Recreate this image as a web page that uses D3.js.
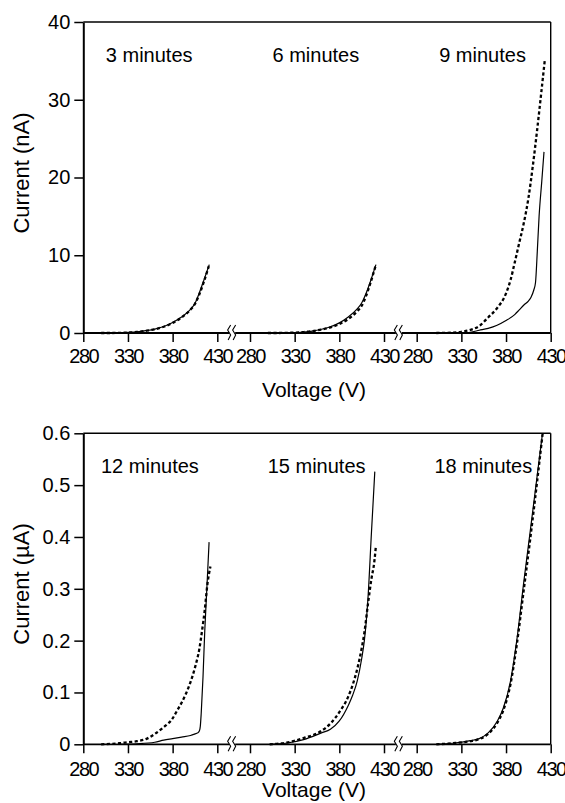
<!DOCTYPE html>
<html>
<head>
<meta charset="utf-8">
<script src="https://cdn.jsdelivr.net/npm/d3@7"></script>
<style>
  body { margin: 0; background: #fff; }
  text { font-family: "Liberation Sans", Arial, sans-serif; fill: #000; }
</style>
</head>
<body>
<div id="chart"></div>
<script>
// voltage ticks used by every segment
var voltTicks = [280, 330, 380, 430];
var nATicks = [0, 10, 20, 30, 40];
var uATicks = [0, 0.1, 0.2, 0.3, 0.4, 0.5, 0.6];

var topTitles = ["3 minutes", "6 minutes", "9 minutes"];
var botTitles = ["12 minutes", "15 minutes", "18 minutes"];

// 3 minutes (nA)
var v3s = [320, 330, 340, 350, 360, 370, 380, 390, 400, 405, 410, 415, 421];
var i3s = [0, 0.07, 0.15, 0.3, 0.5, 0.83, 1.35, 2.05, 3.05, 3.8, 5.2, 6.8, 8.8];
var v3d = [300, 310, 320, 330, 340, 350, 360, 370, 380, 390, 400, 405, 410, 415, 420.5];
var i3d = [0, 0, 0.02, 0.06, 0.13, 0.28, 0.48, 0.8, 1.3, 2.0, 3.0, 3.75, 5.0, 6.6, 8.6];

// 6 minutes (nA)
var v6s = [320, 330, 340, 350, 360, 370, 380, 390, 400, 405, 410, 415, 421];
var i6s = [0, 0.05, 0.12, 0.25, 0.48, 0.8, 1.3, 2.05, 3.1, 3.85, 5.1, 6.7, 8.8];
var v6d = [300, 310, 320, 330, 340, 350, 360, 370, 380, 390, 400, 405, 410, 415, 420.5];
var i6d = [0, 0, 0.02, 0.05, 0.12, 0.25, 0.45, 0.72, 1.15, 1.8, 2.8, 3.5, 4.8, 6.5, 8.6];

// 9 minutes (nA)
var v9s = [330, 340, 350, 360, 370, 380, 390, 395, 400, 405, 408, 411, 413, 415, 417, 420, 422.5];
var i9s = [0, 0.1, 0.35, 0.6, 1.0, 1.6, 2.4, 3.0, 3.6, 4.1, 4.6, 5.5, 6.5, 10.5, 15, 19.5, 23.3];
var v9d = [302, 320, 330, 340, 350, 360, 370, 380, 385, 390, 395, 400, 405, 410, 415, 420, 423.5];
var i9d = [0, 0.05, 0.15, 0.4, 0.9, 2.0, 3.2, 5.1, 6.8, 9.2, 11.7, 14.2, 17.3, 21.5, 26.3, 31.5, 35.2];

// 12 minutes (uA)
var v12s = [320, 340, 360, 370, 380, 390, 400, 405, 408, 410, 411, 412, 414, 416, 418, 420.8];
var i12s = [0, 0.001, 0.004, 0.008, 0.011, 0.014, 0.017, 0.02, 0.022, 0.026, 0.035, 0.06, 0.13, 0.22, 0.29, 0.39];
var v12d = [300, 320, 330, 340, 350, 360, 370, 380, 385, 390, 395, 400, 405, 410, 413, 416, 419, 422.3];
var i12d = [0, 0.002, 0.004, 0.006, 0.01, 0.02, 0.033, 0.05, 0.065, 0.08, 0.098, 0.12, 0.148, 0.185, 0.22, 0.26, 0.31, 0.343];

// 15 minutes (uA)
var v15s = [302, 320, 340, 360, 370, 380, 390, 395, 400, 405, 408, 412, 416, 419.7];
var i15s = [0, 0.002, 0.009, 0.022, 0.029, 0.045, 0.075, 0.095, 0.122, 0.165, 0.2, 0.28, 0.41, 0.526];
var v15d = [302, 320, 340, 360, 370, 380, 390, 395, 400, 405, 408, 412, 416, 419, 420.8];
var i15d = [0, 0.003, 0.012, 0.026, 0.04, 0.062, 0.092, 0.115, 0.145, 0.185, 0.215, 0.27, 0.32, 0.35, 0.38];

// 18 minutes (uA)
var v18s = [302, 320, 340, 350, 360, 370, 377, 385, 392, 400, 407, 415, 420.6];
var i18s = [0, 0.002, 0.007, 0.011, 0.022, 0.044, 0.07, 0.122, 0.2, 0.315, 0.41, 0.52, 0.597];
var v18d = [302, 320, 340, 350, 360, 370, 377, 385, 392, 400, 407, 415, 421];
var i18d = [0, 0.002, 0.006, 0.01, 0.02, 0.041, 0.066, 0.116, 0.192, 0.3, 0.395, 0.51, 0.6];

var W = 565, H = 803;
var segStart = [83.3, 250, 416.7];
var segWidth = 134;
var plotLeft = 83.3, plotRight = 550.7;

var svg = d3.select("#chart").append("svg")
  .attr("width", W)
  .attr("height", H);

function zip(vs, is) {
  return vs.map(function(v, k) { return [v, is[k]]; });
}

function drawPanel(cfg) {
  var y = d3.scaleLinear()
    .domain([cfg.ticks[0], cfg.ticks[cfg.ticks.length - 1]])
    .range([cfg.bottom, cfg.top]);

  var g = svg.append("g");

  // frame top + right
  g.append("line")
    .attr("x1", plotLeft).attr("x2", plotRight)
    .attr("y1", cfg.top).attr("y2", cfg.top)
    .attr("stroke", "#000").attr("stroke-width", 1.6);
  g.append("line")
    .attr("x1", plotRight).attr("x2", plotRight)
    .attr("y1", cfg.top).attr("y2", cfg.bottom)
    .attr("stroke", "#000").attr("stroke-width", 1.4);

  // y axis
  var yAxis = d3.axisLeft(y)
    .tickValues(cfg.ticks)
    .tickSize(9)
    .tickSizeOuter(0)
    .tickPadding(4)
    .tickFormat(cfg.fmt);
  var ya = g.append("g")
    .attr("transform", "translate(" + plotLeft + ",0)")
    .call(yAxis);
  ya.select(".domain").attr("stroke-width", 2);
  ya.selectAll(".tick line").attr("stroke-width", 1.5);
  ya.selectAll(".tick text")
    .style("font-size", "20px")
    .style("font-family", "'Liberation Sans', Arial, sans-serif")
    .attr("fill", "#000");

  // x axis baseline
  g.append("line")
    .attr("x1", plotLeft).attr("x2", plotRight)
    .attr("y1", cfg.bottom).attr("y2", cfg.bottom)
    .attr("stroke", "#000").attr("stroke-width", 1.8);

  var line = d3.line().curve(d3.curveMonotoneX);

  segStart.forEach(function(x0, s) {
    var x = d3.scaleLinear().domain([280, 430]).range([x0, x0 + segWidth]);

    var xAxis = d3.axisBottom(x)
      .tickValues(voltTicks)
      .tickSize(9)
      .tickSizeOuter(0)
      .tickPadding(4);
    var xa = g.append("g")
      .attr("transform", "translate(0," + cfg.bottom + ")")
      .call(xAxis);
    xa.select(".domain").remove();
    xa.selectAll(".tick line").attr("stroke-width", 1.5);
    xa.selectAll(".tick text")
      .attr("y", cfg.labelOff)
      .attr("dy", 0)
      .style("font-size", "20px")
      .style("letter-spacing", "-1.5px")
      .style("font-family", "'Liberation Sans', Arial, sans-serif")
      .attr("fill", "#000");

    line.x(function(d) { return x(d[0]); })
        .y(function(d) { return y(d[1]); });

    var ser = cfg.series[s];
    g.append("path")
      .attr("d", line(zip(ser[0], ser[1])))
      .attr("fill", "none")
      .attr("stroke", "#000")
      .attr("stroke-width", 1.2);
    g.append("path")
      .attr("d", line(zip(ser[2], ser[3])))
      .attr("fill", "none")
      .attr("stroke", "#000")
      .attr("stroke-width", 2.3)
      .attr("stroke-dasharray", "3.2,2.4");

    g.append("text")
      .attr("x", x0 + cfg.titleOff)
      .attr("y", cfg.top + cfg.titleDy)
      .style("font-size", "20px")
      .text(cfg.titles[s]);

    // axis break marks between segments
    if (s < segStart.length - 1) {
      var bx = (x0 + segWidth + segStart[s + 1]) / 2 - 1.5;
      var brk = g.append("g").attr("transform", "translate(" + bx + "," + cfg.bottom + ")");
      brk.append("rect")
        .attr("x", -3).attr("y", -3).attr("width", 6).attr("height", 6)
        .attr("fill", "#fff");
      [-3, 2].forEach(function(dx) {
        brk.append("path")
          .attr("d", "M" + (dx + 1.5) + ",-8 L" + (dx - 1.5) + ",-3 L" + (dx + 1.5) + ",2 L" + (dx - 1) + ",7")
          .attr("fill", "none")
          .attr("stroke", "#000")
          .attr("stroke-width", 1.1);
      });
    }
  });

  // axis titles
  svg.append("text")
    .attr("transform", "translate(29," + cfg.yLabelY + ") rotate(-90)")
    .attr("text-anchor", "middle")
    .style("font-size", "22px")
    .text(cfg.yLabel);
  svg.append("text")
    .attr("x", 314)
    .attr("y", cfg.xLabelY)
    .attr("text-anchor", "middle")
    .style("font-size", "21px")
    .text("Voltage (V)");
}

drawPanel({
  top: 22, bottom: 333, ticks: nATicks,
  fmt: d3.format("d"),
  titles: topTitles, titleOff: 22.5, titleDy: 40,
  labelOff: 29.5,
  yLabel: "Current (nA)", yLabelY: 173, xLabelY: 396.5,
  series: [[v3s, i3s, v3d, i3d], [v6s, i6s, v6d, i6d], [v9s, i9s, v9d, i9d]]
});

drawPanel({
  top: 433.3, bottom: 744.3, ticks: uATicks,
  fmt: function(d) { return d === 0 ? "0" : d3.format(".1f")(d); },
  titles: botTitles, titleOff: 17.7, titleDy: 39.4,
  labelOff: 31.5,
  yLabel: "Current (\u00b5A)", yLabelY: 584, xLabelY: 797,
  series: [[v12s, i12s, v12d, i12d], [v15s, i15s, v15d, i15d], [v18s, i18s, v18d, i18d]]
});
</script>
</body>
</html>
